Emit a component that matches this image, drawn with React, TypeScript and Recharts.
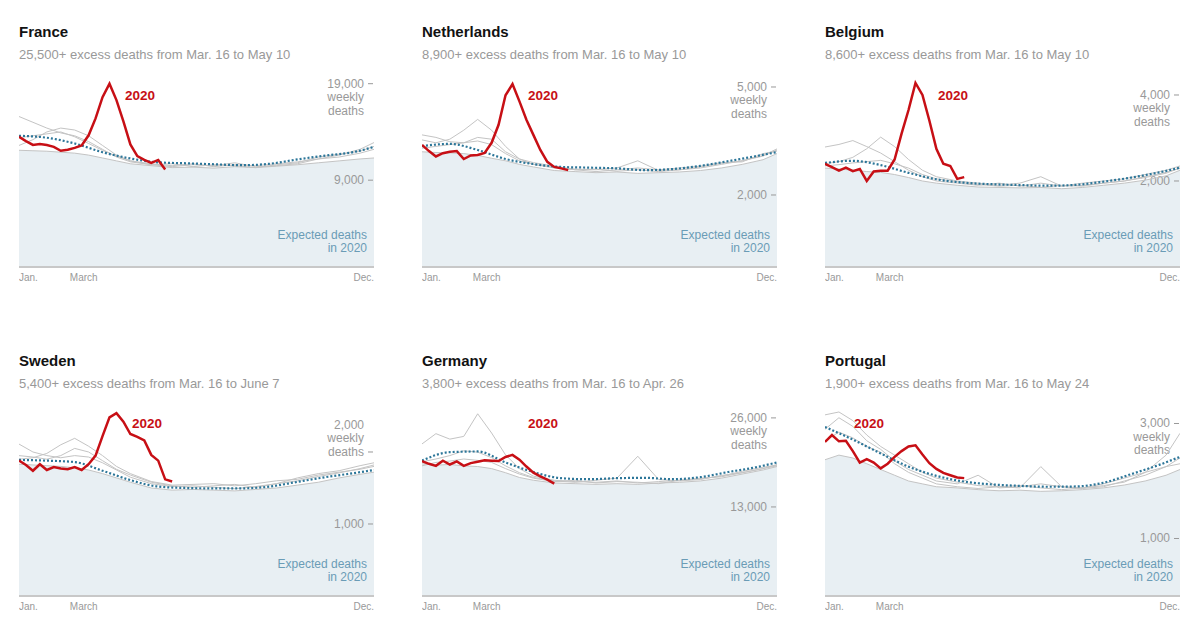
import React from 'react';
import { ComposedChart, Line, Area, XAxis, YAxis, ReferenceLine } from 'recharts';

const FONT = "'Liberation Sans', Arial, Helvetica, sans-serif";

// ---------- shared week grids & axis labels ----------
const grayWeeks = [1, 3, 5, 7, 9, 11, 13, 15, 17, 20, 23, 26, 29, 32, 35, 38, 41, 44, 47, 50, 52];
const expectedWeeks = [1, 5, 9, 13, 17, 21, 25, 29, 33, 37, 41, 45, 49, 52];
const xTickWeeks = [1, 10.3, 52];
const xTickLabels = ['Jan.', 'March', 'Dec.'];

// ---------- France ----------
const franceRed = [13500, 13050, 12650, 12750, 12650, 12450, 12050, 12150, 12350, 12600, 13650, 15400, 17600, 19000, 17300, 15100, 12700, 11500, 11100, 10800, 11100, 10100];
const franceExpected = [13600, 13400, 12800, 11900, 11250, 10850, 10750, 10650, 10550, 10700, 11150, 11550, 11900, 12450];
const franceGray1 = [12100, 12050, 12000, 11900, 11800, 11600, 11300, 11000, 10700, 10500, 10300, 10350, 10250, 10400, 10300, 10450, 10600, 10800, 11000, 11200, 11300];
const franceGray2 = [13400, 13600, 13800, 14000, 13500, 12800, 12100, 11500, 11000, 10700, 10500, 10700, 10400, 10600, 10500, 10700, 10900, 11200, 11600, 12200, 12900];
const franceGray3 = [15600, 15000, 14400, 13900, 13600, 13000, 12200, 11400, 10900, 10600, 10700, 10400, 10600, 10500, 10300, 10600, 10800, 11400, 11700, 12000, 12500];
const franceGray4 = [12600, 13200, 14000, 14400, 14200, 13600, 12600, 11600, 11000, 10600, 10400, 10600, 10500, 10800, 10400, 10500, 10700, 11200, 11400, 11800, 12200];
const franceTicks = [19000, 9000];
const franceTickLabels = ['19,000', '9,000'];

// ---------- Netherlands ----------
const nlRed = [3390, 3220, 3070, 3160, 3200, 3220, 3000, 3100, 3110, 3170, 3450, 3950, 4770, 5080, 4600, 4090, 3670, 3250, 2920, 2780, 2740, 2690];
const nlExpected = [3360, 3420, 3250, 3000, 2860, 2780, 2760, 2740, 2690, 2720, 2810, 2940, 3080, 3190];
const nlGray1 = [3200, 3180, 3170, 3150, 3100, 3020, 2950, 2850, 2780, 2680, 2650, 2620, 2640, 2600, 2620, 2640, 2680, 2750, 2850, 2980, 3150];
const nlGray2 = [3670, 3600, 3480, 3450, 3500, 3400, 3150, 2950, 2850, 2750, 2700, 2720, 2660, 2700, 2650, 2700, 2750, 2850, 2950, 3080, 3250];
const nlGray3 = [3530, 3450, 3550, 3800, 4100, 3800, 3350, 3000, 2850, 2780, 2720, 2700, 2750, 2950, 2680, 2700, 2780, 2880, 2950, 3100, 3280];
const nlGray4 = [3300, 3350, 3400, 3450, 3600, 3550, 3200, 3000, 2900, 2800, 2700, 2650, 2700, 2750, 2700, 2750, 2800, 2900, 2920, 3150, 3220];
const nlTicks = [5000, 2000];
const nlTickLabels = ['5,000', '2,000'];

// ---------- Belgium ----------
const beRed = [2400, 2320, 2240, 2310, 2230, 2280, 2000, 2220, 2240, 2240, 2500, 3100, 3650, 4280, 4000, 3400, 2750, 2400, 2350, 2050, 2090];
const beExpected = [2420, 2470, 2370, 2190, 2040, 1960, 1925, 1905, 1890, 1910, 1985, 2080, 2200, 2310];
const beGray1 = [2300, 2280, 2250, 2220, 2200, 2150, 2080, 2000, 1950, 1900, 1860, 1850, 1840, 1850, 1820, 1850, 1900, 1950, 2020, 2120, 2250];
const beGray2 = [2790, 2850, 2940, 2800, 2650, 2450, 2250, 2100, 2000, 1950, 1900, 1950, 1880, 1950, 1880, 1900, 1950, 2000, 2100, 2200, 2300];
const beGray3 = [2400, 2450, 2550, 2750, 3020, 2800, 2500, 2250, 2100, 2000, 1950, 1900, 1950, 2100, 1880, 1950, 2000, 2050, 2150, 2250, 2350];
const beGray4 = [2350, 2380, 2420, 2450, 2480, 2400, 2300, 2150, 2050, 1980, 1920, 1880, 1900, 1850, 1900, 1880, 1950, 2000, 2080, 2180, 2300];
const beTicks = [4000, 2000];
const beTickLabels = ['4,000', '2,000'];

// ---------- Sweden ----------
const seRed = [1880, 1820, 1740, 1830, 1750, 1790, 1770, 1760, 1790, 1750, 1830, 1950, 2220, 2480, 2540, 2420, 2250, 2210, 2160, 1960, 1880, 1620, 1590];
const seExpected = [1890, 1880, 1860, 1740, 1610, 1520, 1500, 1495, 1495, 1520, 1585, 1650, 1705, 1750];
const seGray1 = [1830, 1820, 1810, 1800, 1780, 1750, 1700, 1640, 1580, 1500, 1470, 1480, 1470, 1460, 1480, 1500, 1540, 1580, 1640, 1690, 1720];
const seGray2 = [2110, 2000, 1950, 1920, 1950, 1930, 1850, 1750, 1650, 1560, 1520, 1530, 1510, 1490, 1520, 1560, 1600, 1660, 1710, 1770, 1820];
const seGray3 = [1900, 1920, 1980, 2100, 2190, 2080, 1950, 1800, 1700, 1590, 1540, 1550, 1560, 1530, 1560, 1600, 1620, 1680, 1720, 1760, 1800];
const seGray4 = [1950, 1930, 1900, 1950, 2050, 2000, 1880, 1760, 1680, 1580, 1530, 1510, 1530, 1550, 1510, 1560, 1640, 1700, 1740, 1810, 1850];
const seTicks = [2000, 1000];
const seTickLabels = ['2,000', '1,000'];

// ---------- Germany ----------
const deRed = [19700, 19300, 19000, 19750, 19200, 19650, 19000, 19400, 19600, 19800, 19750, 19700, 20300, 20600, 19900, 18900, 18000, 17450, 17000, 16400];
const deExpected = [19780, 21000, 21100, 19500, 18100, 17200, 17050, 17200, 17250, 17050, 17350, 18100, 18800, 19500];
const deGray1 = [19300, 19100, 19200, 19000, 18900, 18600, 18000, 17300, 16900, 16500, 16400, 16300, 16400, 16300, 16500, 16600, 16800, 17200, 17800, 18400, 18900];
const deGray2 = [22200, 23700, 22900, 23300, 26600, 23800, 20600, 18600, 17500, 16900, 16700, 16600, 16800, 16500, 16700, 16900, 17100, 17500, 18200, 18800, 19100];
const deGray3 = [19600, 20000, 20500, 21200, 21000, 20200, 19000, 18000, 17300, 16800, 16600, 16900, 17200, 20400, 17000, 16800, 17000, 17600, 18000, 18600, 19200];
const deGray4 = [19000, 19500, 19700, 20000, 19800, 19500, 18600, 17800, 17200, 16700, 16900, 16500, 16700, 16600, 16400, 16900, 17200, 17400, 18000, 18600, 19000];
const deTicks = [26000, 13000];
const deTickLabels = ['26,000', '13,000'];

// ---------- Portugal ----------
const ptRed = [2680, 2800, 2690, 2700, 2520, 2320, 2380, 2320, 2220, 2300, 2420, 2520, 2600, 2620, 2460, 2310, 2210, 2140, 2100, 2060, 2050];
const ptExpected = [2940, 2720, 2480, 2250, 2090, 1990, 1940, 1915, 1900, 1905, 1970, 2120, 2280, 2420];
const ptGray1 = [2370, 2450, 2400, 2300, 2200, 2100, 2000, 1950, 1900, 1880, 1850, 1830, 1840, 1820, 1830, 1850, 1880, 1930, 2000, 2100, 2200];
const ptGray2 = [3150, 3200, 3050, 2800, 2600, 2450, 2300, 2150, 2050, 1980, 1920, 1900, 1880, 2250, 1900, 1880, 1920, 1980, 2150, 2450, 2830];
const ptGray3 = [2900, 3100, 2950, 2700, 2550, 2350, 2200, 2100, 2000, 1950, 2100, 1880, 1900, 1950, 1900, 1870, 1900, 2000, 2100, 2250, 2400];
const ptGray4 = [2700, 2850, 2750, 2600, 2500, 2300, 2150, 2050, 1950, 1900, 1870, 1900, 1920, 1880, 1850, 1880, 1950, 2050, 2150, 2250, 2300];
const ptTicks = [3000, 1000];
const ptTickLabels = ['3,000', '1,000'];

// ---------- panel config ----------
type Country = {
  name: string;
  subtitle: string;
  red: number[];
  expected: number[];
  grays: number[][];
  ticks: number[];
  tickLabels: string[];
  yMax: number;
  unitAbove: boolean;
  labelLeft: number;
  labelTop: number;
  left: number;
  top: number;
};

const countries: Country[] = [
  { name: 'France', subtitle: '25,500+ excess deaths from Mar. 16 to May 10', red: franceRed, expected: franceExpected, grays: [franceGray1, franceGray2, franceGray3, franceGray4], ticks: franceTicks, tickLabels: franceTickLabels, yMax: 20420, unitAbove: false, labelLeft: 106, labelTop: 96, left: 19, top: 0 },
  { name: 'Netherlands', subtitle: '8,900+ excess deaths from Mar. 16 to May 10', red: nlRed, expected: nlExpected, grays: [nlGray1, nlGray2, nlGray3, nlGray4], ticks: nlTicks, tickLabels: nlTickLabels, yMax: 5472, unitAbove: false, labelLeft: 106, labelTop: 96, left: 422, top: 0 },
  { name: 'Belgium', subtitle: '8,600+ excess deaths from Mar. 16 to May 10', red: beRed, expected: beExpected, grays: [beGray1, beGray2, beGray3, beGray4], ticks: beTicks, tickLabels: beTickLabels, yMax: 4581, unitAbove: false, labelLeft: 113, labelTop: 96, left: 825, top: 0 },
  { name: 'Sweden', subtitle: '5,400+ excess deaths from Mar. 16 to June 7', red: seRed, expected: seExpected, grays: [seGray1, seGray2, seGray3, seGray4], ticks: seTicks, tickLabels: seTickLabels, yMax: 2736, unitAbove: true, labelLeft: 113, labelTop: 95, left: 19, top: 329 },
  { name: 'Germany', subtitle: '3,800+ excess deaths from Mar. 16 to Apr. 26', red: deRed, expected: deExpected, grays: [deGray1, deGray2, deGray3, deGray4], ticks: deTicks, tickLabels: deTickLabels, yMax: 28760, unitAbove: false, labelLeft: 106, labelTop: 95, left: 422, top: 329 },
  { name: 'Portugal', subtitle: '1,900+ excess deaths from Mar. 16 to May 24', red: ptRed, expected: ptExpected, grays: [ptGray1, ptGray2, ptGray3, ptGray4], ticks: ptTicks, tickLabels: ptTickLabels, yMax: 3426, unitAbove: false, labelLeft: 29, labelTop: 95, left: 825, top: 329 },
];

const toPoints = (weeks: number[], values: number[]) => values.map((v, i) => ({ w: weeks[i], v }));
const weekly = (values: number[]) => values.map((v, i) => ({ w: i + 1, v }));

const RED = '#c70f15';
const GRAY_LINE = '#c4c4c4';
const FILL = '#e8eff3';
const BLUE = '#2c7699';
const TEXT_GRAY = '#999999';

function XTick(props: any) {
  const { x, y, index } = props;
  const anchor = index === 0 ? 'start' : index === xTickLabels.length - 1 ? 'end' : 'middle';
  return (
    <text x={x} y={y + 10} textAnchor={anchor} dominantBaseline="central" fontSize={10} fill={TEXT_GRAY} fontFamily={FONT}>
      {xTickLabels[index]}
    </text>
  );
}

function YTickLabel(props: any) {
  const { viewBox, text, withUnit, unitAbove } = props;
  if (!viewBox) return null;
  const right = viewBox.x + viewBox.width;
  const y = viewBox.y;
  const lines = withUnit ? [text, 'weekly', 'deaths'] : [text];
  const lh = 13.5;
  const startY = withUnit && unitAbove ? y - lh * (lines.length - 1) : y;
  return (
    <g>
      {lines.map((l: string, i: number) => (
        <text key={i} x={right - 10} y={startY + i * lh} textAnchor="end" dominantBaseline="central" fontSize={12} fill={TEXT_GRAY} fontFamily={FONT}>
          {l}
        </text>
      ))}
      <line x1={right - 6} x2={right - 1} y1={y} y2={y} stroke={TEXT_GRAY} strokeWidth={1} />
    </g>
  );
}

function Panel({ c }: { c: Country }) {
  const fillData = toPoints(grayWeeks, c.grays[0]);
  return (
    <div style={{ position: 'absolute', left: c.left, top: c.top, width: 355, height: 300 }}>
      <div style={{ position: 'absolute', left: 0, top: 24, fontSize: 15, lineHeight: '16px', fontWeight: 700, color: '#121212', whiteSpace: 'nowrap' }}>
        {c.name}
      </div>
      <div style={{ position: 'absolute', left: 0, top: 47, fontSize: 13, lineHeight: '16px', color: TEXT_GRAY, whiteSpace: 'nowrap' }}>
        {c.subtitle}
      </div>
      <div style={{ position: 'absolute', left: 0, top: 70 }}>
        <ComposedChart width={355} height={217} margin={{ top: 0, right: 0, bottom: 0, left: 0 }}>
          <XAxis
            type="number"
            dataKey="w"
            domain={[1, 52]}
            allowDataOverflow
            ticks={xTickWeeks}
            interval={0}
            tickLine={false}
            tickSize={0}
            tickMargin={0}
            height={20}
            axisLine={{ stroke: '#c8c8c8', strokeWidth: 2 }}
            tick={<XTick />}
          />
          <YAxis hide type="number" domain={[0, c.yMax]} allowDataOverflow />
          <Area data={fillData} dataKey="v" type="linear" fill={FILL} fillOpacity={1} stroke="none" isAnimationActive={false} />
          {c.ticks.map((t, i) => (
            <ReferenceLine
              key={'t' + i}
              y={t}
              stroke="none"
              label={<YTickLabel text={c.tickLabels[i]} withUnit={i === 0} unitAbove={c.unitAbove} />}
            />
          ))}
          {c.grays.map((g, i) => (
            <Line
              key={'g' + i}
              data={toPoints(grayWeeks, g)}
              dataKey="v"
              type="linear"
              stroke={GRAY_LINE}
              strokeWidth={1}
              dot={false}
              isAnimationActive={false}
            />
          ))}
          <Line
            data={toPoints(expectedWeeks, c.expected)}
            dataKey="v"
            type="monotone"
            stroke={BLUE}
            strokeWidth={2.2}
            strokeDasharray="2 2"
            dot={false}
            isAnimationActive={false}
          />
          <Line
            data={weekly(c.red)}
            dataKey="v"
            type="linear"
            stroke={RED}
            strokeWidth={2.5}
            dot={false}
            isAnimationActive={false}
          />
        </ComposedChart>
      </div>
      <div style={{ position: 'absolute', left: c.labelLeft, top: c.labelTop - 8, fontSize: 13.5, lineHeight: '16px', fontWeight: 700, color: RED }}>
        2020
      </div>
      <div style={{ position: 'absolute', right: 7, top: 229, fontSize: 12, lineHeight: '13px', color: '#6a9cb6', textAlign: 'right', whiteSpace: 'nowrap' }}>
        Expected deaths
        <br />
        in 2020
      </div>
    </div>
  );
}

export default function App() {
  return (
    <div style={{ position: 'absolute', left: 0, top: 0, width: 1200, height: 634, background: '#ffffff', overflow: 'hidden', fontFamily: FONT }}>
      {countries.map((c) => (
        <Panel key={c.name} c={c} />
      ))}
    </div>
  );
}
